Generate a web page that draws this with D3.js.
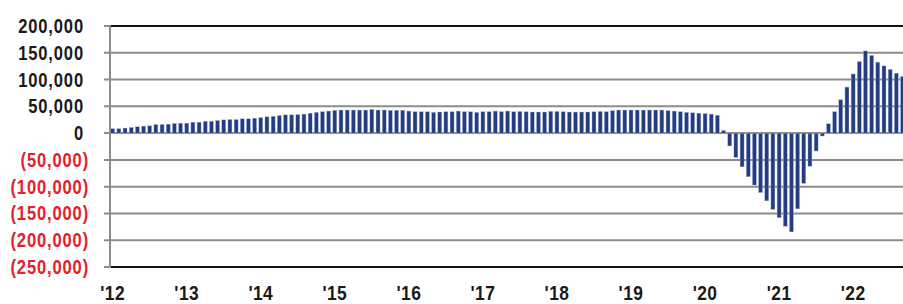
<!DOCTYPE html>
<html>
<head>
<meta charset="utf-8">
<script src="https://cdn.jsdelivr.net/npm/d3@7"></script>
<style>
	body { margin: 0; background: #fff; }
	svg { display: block; }
	.lbl { font-family: "Liberation Sans", Arial, sans-serif; font-weight: bold; }
</style>
</head>
<body>
<svg id="chart" width="903" height="304"></svg>
<script>
// monthly values, Jan 2012 .. Sep 2022
var y2012 = [ 8300, 8300, 9500, 10700, 11900, 13100, 13700, 16200, 16200, 16800, 18000, 18600 ];
var y2013 = [ 18600, 20500, 20500, 22300, 22300, 23600, 24800, 25400, 25400, 26700, 26700, 27900 ];
var y2014 = [ 29100, 30400, 31600, 32800, 34100, 34100, 34700, 35500, 37300, 38800, 40000, 41200 ];
var y2015 = [ 42500, 43100, 43100, 43100, 43100, 43100, 44400, 43100, 43100, 42500, 42800, 42800 ];
var y2016 = [ 41200, 40000, 40000, 40000, 38800, 39400, 40000, 40000, 41200, 40000, 40000, 38800 ];
var y2017 = [ 40000, 40000, 41200, 40000, 41200, 40000, 40600, 40000, 39400, 39400, 39400, 40600 ];
var y2018 = [ 40600, 40000, 39400, 39400, 39400, 39400, 40000, 40600, 40000, 42000, 43100, 43100 ];
var y2019 = [ 43100, 43100, 43100, 43100, 43100, 43100, 42000, 41200, 40000, 38800, 38000, 37300 ];
var y2020 = [ 36500, 35500, 33500, 5000, -24000, -45500, -63000, -81500, -97000, -111000, -126500, -142500 ];
var y2021 = [ -158000, -174000, -184500, -141500, -94000, -62000, -33500, -5500, 17500, 40000, 62500, 86000 ];
var y2022 = [ 110500, 133500, 153500, 145000, 132500, 125500, 119000, 112000, 106000 ];

var values = [].concat(y2012, y2013, y2014, y2015, y2016, y2017, y2018, y2019, y2020, y2021, y2022);
var yearLabels = [ "'12", "'13", "'14", "'15", "'16", "'17", "'18", "'19", "'20", "'21", "'22" ];
var yTicks = [ 200000, 150000, 100000, 50000, 0, -50000, -100000, -150000, -200000, -250000 ];

var svg = d3.select("#chart");

var x = d3.scaleLinear().domain([ 0, 128 ]).range([ 112.7, 902.5 ]);
var y = d3.scaleLinear().domain([ -250000, 200000 ]).range([ 267, 26 ]);
var barW = 4;
var squeeze = 0.85; // condensed look

var fmt = function(v) {
	var s = d3.format(",")(Math.abs(v));
	return v < 0 ? "(" + s + ")" : s;
};

// gridlines
svg.append("g").selectAll("line").data(yTicks).enter().append("line")//
.attr("x1", 104).attr("x2", 903)//
.attr("y1", function(d) { return y(d); }).attr("y2", function(d) { return y(d); })//
.attr("stroke", "#8c8c8c").attr("stroke-width", 2);

// top and bottom frame lines are black inside the plot
svg.append("g").selectAll("line").data([ 200000, -250000 ]).enter().append("line")//
.attr("x1", 111).attr("x2", 903)//
.attr("y1", function(d) { return y(d); }).attr("y2", function(d) { return y(d); })//
.attr("stroke", "#111").attr("stroke-width", 2);

// bars
svg.append("g").selectAll("rect").data(values).enter().append("rect")//
.attr("x", function(d, i) { return x(i) - barW / 2; })//
.attr("y", function(d) { return y(Math.max(0, d)); })//
.attr("width", barW)//
.attr("height", function(d) { return Math.abs(y(d) - y(0)); })//
.attr("fill", "#233d80")//
.attr("stroke", "#b7c1dc").attr("stroke-width", 0.4);

// left axis line
svg.append("line").attr("x1", 110).attr("x2", 110)//
.attr("y1", y(200000) - 1).attr("y2", y(-250000) + 1)//
.attr("stroke", "#8c8c8c").attr("stroke-width", 2);

// y labels
svg.append("g").selectAll("text").data(yTicks).enter().append("text")//
.attr("class", "lbl")//
.attr("transform", function(d) {
	var right = d < 0 ? 89 : 84;
	return "translate(" + right + "," + (y(d) + 7) + ") scale(" + squeeze + ",1)";
})//
.attr("text-anchor", "end")//
.attr("font-size", 19.5).attr("letter-spacing", 1)//
.attr("fill", function(d) { return d < 0 ? "#e3202b" : "#1a1a1a"; })//
.text(fmt);

// x labels at each January
svg.append("g").selectAll("text").data(yearLabels).enter().append("text")//
.attr("class", "lbl")//
.attr("transform", function(d, i) {
	return "translate(" + x(i * 12) + ",299.5) scale(" + squeeze + ",1)";
})//
.attr("text-anchor", "middle")//
.attr("font-size", 20.5).attr("letter-spacing", 0.5)//
.attr("fill", "#1a1a1a")//
.text(function(d) { return d; });
</script>
</body>
</html>
